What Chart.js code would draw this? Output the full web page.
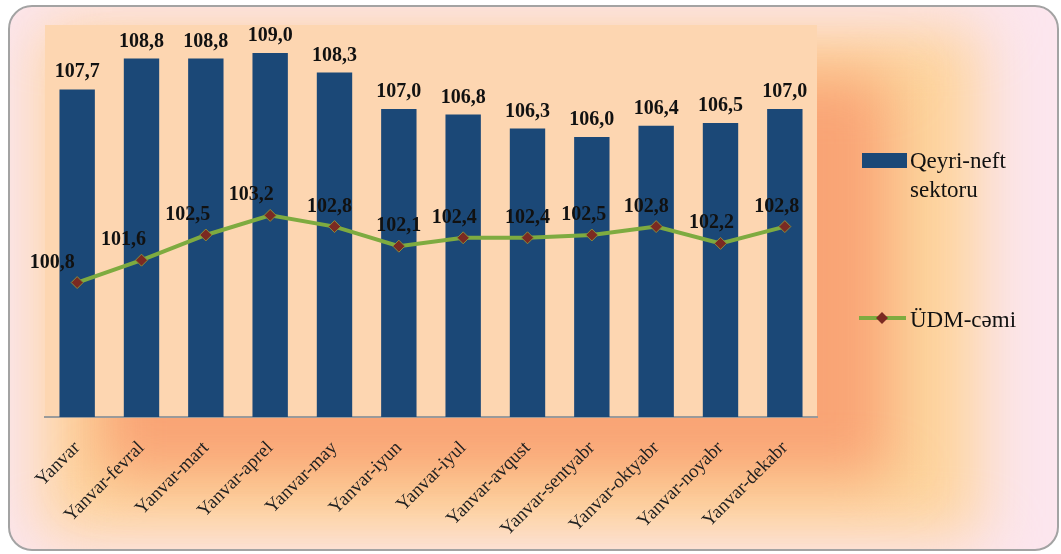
<!DOCTYPE html>
<html>
<head>
<meta charset="utf-8">
<script src="https://cdn.jsdelivr.net/npm/chart.js@4/dist/chart.umd.min.js"></script>
<style>
  html, body { margin: 0; padding: 0; width: 1061px; height: 554px; overflow: hidden; background: #fff; }
  #frame {
    position: absolute; left: 8px; top: 5px; width: 1051px; height: 546px;
    box-sizing: border-box; border: 2px solid #a3a3a3; border-radius: 24px;
    background: #fce6ee; overflow: hidden;
  }
  .glow { position: absolute; }
  #yellow { left: 30px; top: 20px; width: 940px; height: 510px; background: #fdd49c; filter: blur(30px); }
  #orange { left: 90px; top: 70px; width: 790px; height: 400px; background: #f9a475; filter: blur(28px); }
  #chart { position: absolute; left: 0; top: 0; }
</style>
</head>
<body>
<div id="frame">
  <div class="glow" id="yellow"></div>
  <div class="glow" id="orange"></div>
</div>
<canvas id="chart" width="1061" height="554"></canvas>

<script>
const months = ['Yanvar', 'Yanvar-fevral', 'Yanvar-mart', 'Yanvar-aprel', 'Yanvar-may', 'Yanvar-iyun',
  'Yanvar-iyul', 'Yanvar-avqust', 'Yanvar-sentyabr', 'Yanvar-oktyabr', 'Yanvar-noyabr', 'Yanvar-dekabr'];
const nonOil = [107.7, 108.8, 108.8, 109.0, 108.3, 107.0, 106.8, 106.3, 106.0, 106.4, 106.5, 107.0];
const gdpTotal = [100.8, 101.6, 102.5, 103.2, 102.8, 102.1, 102.4, 102.4, 102.5, 102.8, 102.2, 102.8];

// small nudges for the line labels, as in the picture
const lineLabelDx = [-25, -18, -18, -19, -5, 0, -9, 0, -8, -10, -9, -8];

const BAR_COLOR = '#1b4877';
const LINE_COLOR = '#7eab40';
const MARK_COLOR = '#7b2a22';
const SERIF = '"Liberation Serif", "Times New Roman", serif';

const fmt = v => v.toFixed(1).replace('.', ',');

const areaFill = {
  id: 'areaFill',
  beforeDraw(chart) {
    const { ctx, chartArea: a } = chart;
    ctx.save();
    ctx.fillStyle = '#fdd6b1';
    ctx.fillRect(a.left, a.top, a.right - a.left, a.bottom - a.top);
    ctx.restore();
  }
};

const valueLabels = {
  id: 'valueLabels',
  afterDatasetsDraw(chart) {
    const ctx = chart.ctx;
    ctx.save();
    ctx.font = 'bold 20px ' + SERIF;
    ctx.fillStyle = '#111';
    ctx.textAlign = 'center';
    ctx.textBaseline = 'alphabetic';
    chart.getDatasetMeta(1).data.forEach((el, i) => {
      ctx.fillText(fmt(nonOil[i]), el.x, el.y - 12);
    });
    chart.getDatasetMeta(0).data.forEach((el, i) => {
      ctx.fillText(fmt(gdpTotal[i]), el.x + lineLabelDx[i], el.y - 15);
    });
    ctx.restore();
  }
};

// legend on the right, drawn by hand so the bar label can wrap
const sideLegend = {
  id: 'sideLegend',
  afterDraw(chart) {
    const ctx = chart.ctx;
    const x = chart.chartArea.right + 45;
    ctx.save();
    ctx.fillStyle = BAR_COLOR;
    ctx.fillRect(x, 153, 45, 15);
    ctx.strokeStyle = LINE_COLOR;
    ctx.lineWidth = 4;
    ctx.beginPath();
    ctx.moveTo(x - 3, 318);
    ctx.lineTo(x + 44, 318);
    ctx.stroke();
    ctx.fillStyle = MARK_COLOR;
    ctx.beginPath();
    ctx.moveTo(x + 20, 312);
    ctx.lineTo(x + 26, 318);
    ctx.lineTo(x + 20, 324);
    ctx.lineTo(x + 14, 318);
    ctx.closePath();
    ctx.fill();
    ctx.fillStyle = '#111';
    ctx.font = '23px ' + SERIF;
    ctx.textAlign = 'left';
    ctx.fillText('Qeyri-neft', x + 48, 168);
    ctx.fillText('sektoru', x + 48, 197);
    ctx.fillText('ÜDM-cəmi', x + 48, 327);
    ctx.restore();
  }
};

new Chart(document.getElementById('chart'), {
  type: 'bar',
  data: {
    labels: months,
    datasets: [{
      type: 'line',
      label: 'ÜDM-cəmi',
      data: gdpTotal,
      borderColor: LINE_COLOR,
      borderWidth: 4,
      pointStyle: 'rectRot',
      pointRadius: 6,
      pointBackgroundColor: MARK_COLOR,
      pointBorderColor: '#8c8a3a',
      pointBorderWidth: 1,
      tension: 0,
      order: 0
    }, {
      label: 'Qeyri-neft sektoru',
      data: nonOil,
      backgroundColor: BAR_COLOR,
      categoryPercentage: 1,
      barPercentage: 0.55,
      order: 1
    }]
  },
  options: {
    responsive: false,
    animation: false,
    layout: { padding: { left: 45, top: 25, right: 244, bottom: 1 } },
    plugins: { legend: { display: false }, tooltip: { enabled: false } },
    scales: {
      x: {
        grid: { display: false },
        border: { color: '#9a9a9a', width: 2 },
        ticks: {
          minRotation: 45, maxRotation: 45, padding: 12,
          color: '#222',
          font: { family: SERIF, size: 19 }
        }
      },
      y: { display: false, min: 96, max: 110 }
    }
  },
  plugins: [areaFill, valueLabels, sideLegend]
});
</script>
</body>
</html>
